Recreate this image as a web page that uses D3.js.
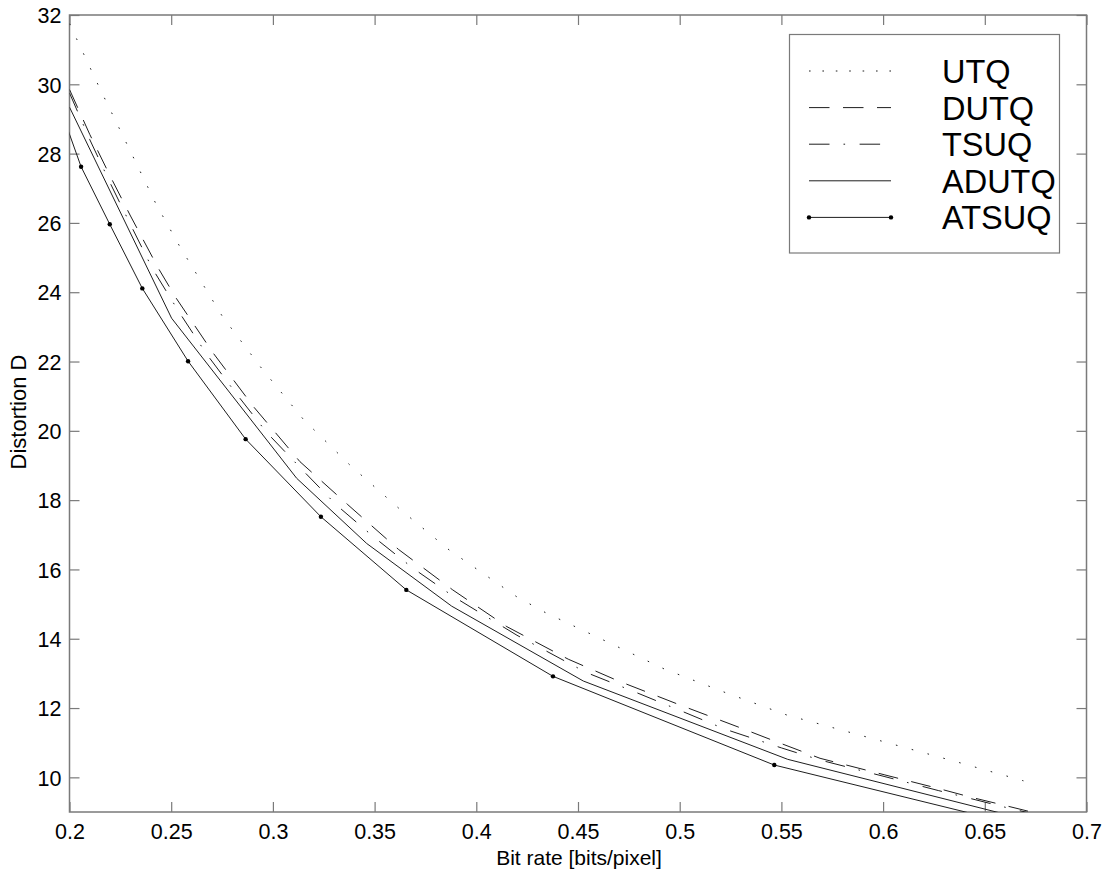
<!DOCTYPE html>
<html>
<head>
<meta charset="utf-8">
<script src="https://cdn.jsdelivr.net/npm/d3@7"></script>
<style>
  html, body { margin: 0; padding: 0; background: #fff; }
  svg { display: block; font-family: "Liberation Sans", Arial, Helvetica, sans-serif; }
</style>
</head>
<body>
<svg id="chart" width="1108" height="875"></svg>
<script>
// ---- data ----
const xTicks = [0.2, 0.25, 0.3, 0.35, 0.4, 0.45, 0.5, 0.55, 0.6, 0.65, 0.7];
const yTicks = [10, 12, 14, 16, 18, 20, 22, 24, 26, 28, 30, 32];

const seriesNames = ["UTQ", "DUTQ", "TSUQ", "ADUTQ", "ATSUQ"];

const utqX = [0.2, 0.2145, 0.2286, 0.2425, 0.2543, 0.2670, 0.2753, 0.2945, 0.315, 0.3379, 0.362, 0.3867, 0.4199, 0.4338, 0.4633, 0.4923, 0.5223, 0.5526, 0.599, 0.6378, 0.669];
const utqY = [31.75, 29.93, 28.23, 26.55, 25.31, 24.09, 23.29, 21.80, 20.33, 19.01, 17.76, 16.56, 15.21, 14.76, 13.94, 13.13, 12.45, 11.80, 11.05, 10.42, 9.90];

const dutqX = [0.2, 0.21, 0.22, 0.23, 0.2437, 0.2522, 0.2707, 0.2907, 0.3133, 0.3368, 0.3617, 0.3884, 0.415, 0.4452, 0.4695, 0.5005, 0.5316, 0.5452, 0.569, 0.6009, 0.6271, 0.6436, 0.6591, 0.675];
const dutqY = [29.85, 28.55, 27.35, 26.2, 24.69, 23.85, 22.24, 20.68, 19.11, 17.87, 16.58, 15.41, 14.35, 13.41, 12.79, 12.08, 11.39, 11.08, 10.55, 10.07, 9.68, 9.42, 9.20, 8.97];

const tsuqX = [0.2, 0.21, 0.22, 0.23, 0.2407, 0.2535, 0.2671, 0.2819, 0.297, 0.3142, 0.3314, 0.3497, 0.369, 0.3895, 0.42, 0.4539, 0.4769, 0.4998, 0.5223, 0.55, 0.569, 0.6009, 0.6271, 0.6436, 0.6591, 0.675];
const tsuqY = [29.75, 28.4, 27.15, 25.95, 24.69, 23.46, 22.24, 21.08, 19.95, 18.89, 17.85, 16.93, 16.03, 15.19, 14.1, 13.03, 12.49, 11.94, 11.39, 10.85, 10.5, 10.02, 9.62, 9.38, 9.15, 8.93];

const adutqX = [0.2, 0.2502, 0.3117, 0.3461, 0.3879, 0.4526, 0.5531, 0.68];
const adutqY = [29.34, 23.25, 18.63, 16.75, 14.94, 12.78, 10.52, 8.64];

const atsuqX = [0.1955, 0.2057, 0.2198, 0.2358, 0.2583, 0.2866, 0.3236, 0.3656, 0.4377, 0.5465, 0.68];
const atsuqY = [29.3, 27.62, 25.96, 24.11, 22.01, 19.76, 17.52, 15.41, 12.915, 10.355, 8.43];

// ---- layout ----
const svg = d3.select("#chart");
const L = 69.5, T = 15, R = 1086.5, B = 812;
const x = d3.scaleLinear().domain([0.2, 0.7]).range([L, R]);
const y = d3.scaleLinear().domain([9, 32]).range([B, T]);

const frameColor = "#7a7a7a";
const lineColor = "#1e1e1e";
const styles = {
  UTQ:   { dash: "1.6,14.8", marker: false },
  DUTQ:  { dash: "20,13.5", marker: false },
  TSUQ:  { dash: "20,14,1.6,14.5", marker: false },
  ADUTQ: { dash: null, marker: false },
  ATSUQ: { dash: null, marker: true }
};
const legendDash = { UTQ: "1.6,11.8", DUTQ: "20.5,13.5", TSUQ: "20.5,14,1.6,14.5", ADUTQ: null, ATSUQ: null };

const zip = (xs, ys) => xs.map((v, i) => ({ x: v, y: ys[i] }));
const data = {
  UTQ: zip(utqX, utqY),
  DUTQ: zip(dutqX, dutqY),
  TSUQ: zip(tsuqX, tsuqY),
  ADUTQ: zip(adutqX, adutqY),
  ATSUQ: zip(atsuqX, atsuqY)
};

svg.append("defs").append("clipPath").attr("id", "plotclip")
  .append("rect").attr("x", L).attr("y", T).attr("width", R - L).attr("height", B - T);

// ---- axes (ticks inward, on all four sides) ----
const tickLen = 10;
const fontTick = 21.5;

const gx = svg.append("g").attr("transform", `translate(0,${B})`)
  .call(d3.axisBottom(x).tickValues(xTicks).tickSize(-tickLen).tickPadding(12).tickFormat(d3.format("~g")));
const gxt = svg.append("g").attr("transform", `translate(0,${T})`)
  .call(d3.axisTop(x).tickValues(xTicks).tickSize(-tickLen).tickFormat(""));
const gy = svg.append("g").attr("transform", `translate(${L},0)`)
  .call(d3.axisLeft(y).tickValues(yTicks).tickSize(-tickLen).tickPadding(8).tickFormat(d3.format("~g")));
const gyr = svg.append("g").attr("transform", `translate(${R},0)`)
  .call(d3.axisRight(y).tickValues(yTicks).tickSize(-tickLen).tickFormat(""));

[gx, gxt, gy, gyr].forEach(g => {
  g.select(".domain").remove();
  g.selectAll(".tick line").attr("stroke", frameColor).attr("stroke-width", 1.2);
  g.selectAll(".tick text").attr("fill", "#000").attr("font-size", fontTick)
    .attr("font-family", "Liberation Sans, Arial, Helvetica, sans-serif");
});
gx.selectAll(".tick text").attr("dy", "0.71em");
gy.selectAll(".tick text").attr("dy", "0.36em");

// frame
svg.append("rect").attr("x", L).attr("y", T).attr("width", R - L).attr("height", B - T)
  .attr("fill", "none").attr("stroke", frameColor).attr("stroke-width", 1.5);

// ---- series ----
const line = d3.line().x(d => x(d.x)).y(d => y(d.y));
const plot = svg.append("g").attr("clip-path", "url(#plotclip)");
seriesNames.forEach(name => {
  const s = styles[name];
  plot.append("path").datum(data[name])
    .attr("d", line).attr("fill", "none")
    .attr("stroke", lineColor).attr("stroke-width", 1)
    .attr("stroke-dasharray", s.dash);
  if (s.marker) {
    plot.selectAll(null).data(data[name]).enter().append("circle")
      .attr("cx", d => x(d.x)).attr("cy", d => y(d.y)).attr("r", 2.2).attr("fill", "#000");
  }
});

// ---- axis titles ----
svg.append("text").attr("x", (L + R) / 2 + 1).attr("y", 865).attr("text-anchor", "middle")
  .attr("font-size", 21).attr("fill", "#000").text("Bit rate [bits/pixel]");
svg.append("text").attr("transform", "translate(26,412) rotate(-90)").attr("text-anchor", "middle")
  .attr("font-size", 22).attr("fill", "#000").text("Distortion D");

// ---- legend ----
const lg = svg.append("g");
lg.append("rect").attr("x", 789.5).attr("y", 34.5).attr("width", 270).attr("height", 218.5)
  .attr("fill", "#fff").attr("stroke", frameColor).attr("stroke-width", 1.2);
const rowY = i => 71 + i * 36.6;
seriesNames.forEach((name, i) => {
  const yy = rowY(i);
  lg.append("line").attr("x1", 809).attr("x2", 891).attr("y1", yy).attr("y2", yy)
    .attr("stroke", lineColor).attr("stroke-width", 1)
    .attr("stroke-dasharray", legendDash[name]);
  if (styles[name].marker) {
    [809, 891].forEach(cx => lg.append("circle").attr("cx", cx).attr("cy", yy).attr("r", 2.2).attr("fill", "#000"));
  }
  lg.append("text").attr("x", 942).attr("y", yy + 12).attr("font-size", 32.5).attr("fill", "#000").text(name);
});
</script>
</body>
</html>
